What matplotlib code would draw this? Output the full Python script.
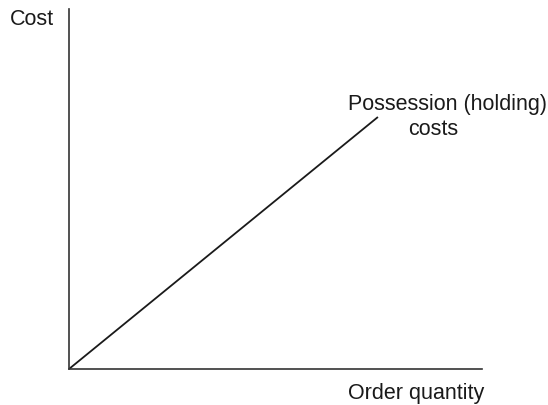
import matplotlib
matplotlib.use('Agg')
import matplotlib.pyplot as plt

plt.rcParams['font.family'] = ['Liberation Sans', 'DejaVu Sans']

# holding cost grows linearly with order quantity (axes 0..1)
quantity = [0.0, 0.748]
holding_cost = [0.0, 0.700]

W, H = 548, 406
fig = plt.figure(figsize=(W / 100, H / 100), dpi=100)

# axes box in pixels: origin (69, 370), x end 482, y top 10
ax = fig.add_axes([69 / W, 1 - 370 / H, (482 - 69) / W, (370 - 10) / H])
ax.plot(quantity, holding_cost, color='#1a1a1a', lw=1.3, solid_capstyle='butt')
ax.set_xlim(0, 1)
ax.set_ylim(0, 1)
ax.set_xticks([])
ax.set_yticks([])
for side in ['top', 'right']:
    ax.spines[side].set_visible(False)
for side in ['left', 'bottom']:
    ax.spines[side].set_color('#333333')
    ax.spines[side].set_linewidth(1.2)

fs = 15.5
fig.text(10 / W, 1 - 25 / H, 'Cost', fontsize=fs, ha='left', va='baseline', color='#1a1a1a')
fig.text(484 / W, 1 - 399 / H, 'Order quantity', fontsize=fs, ha='right', va='baseline', color='#1a1a1a')
fig.text(447 / W, 1 - 110 / H, 'Possession (holding)', fontsize=fs, ha='center', va='baseline', color='#1a1a1a')
fig.text(433 / W, 1 - 135 / H, 'costs', fontsize=fs, ha='center', va='baseline', color='#1a1a1a')

fig.savefig('out.png', dpi=100)
